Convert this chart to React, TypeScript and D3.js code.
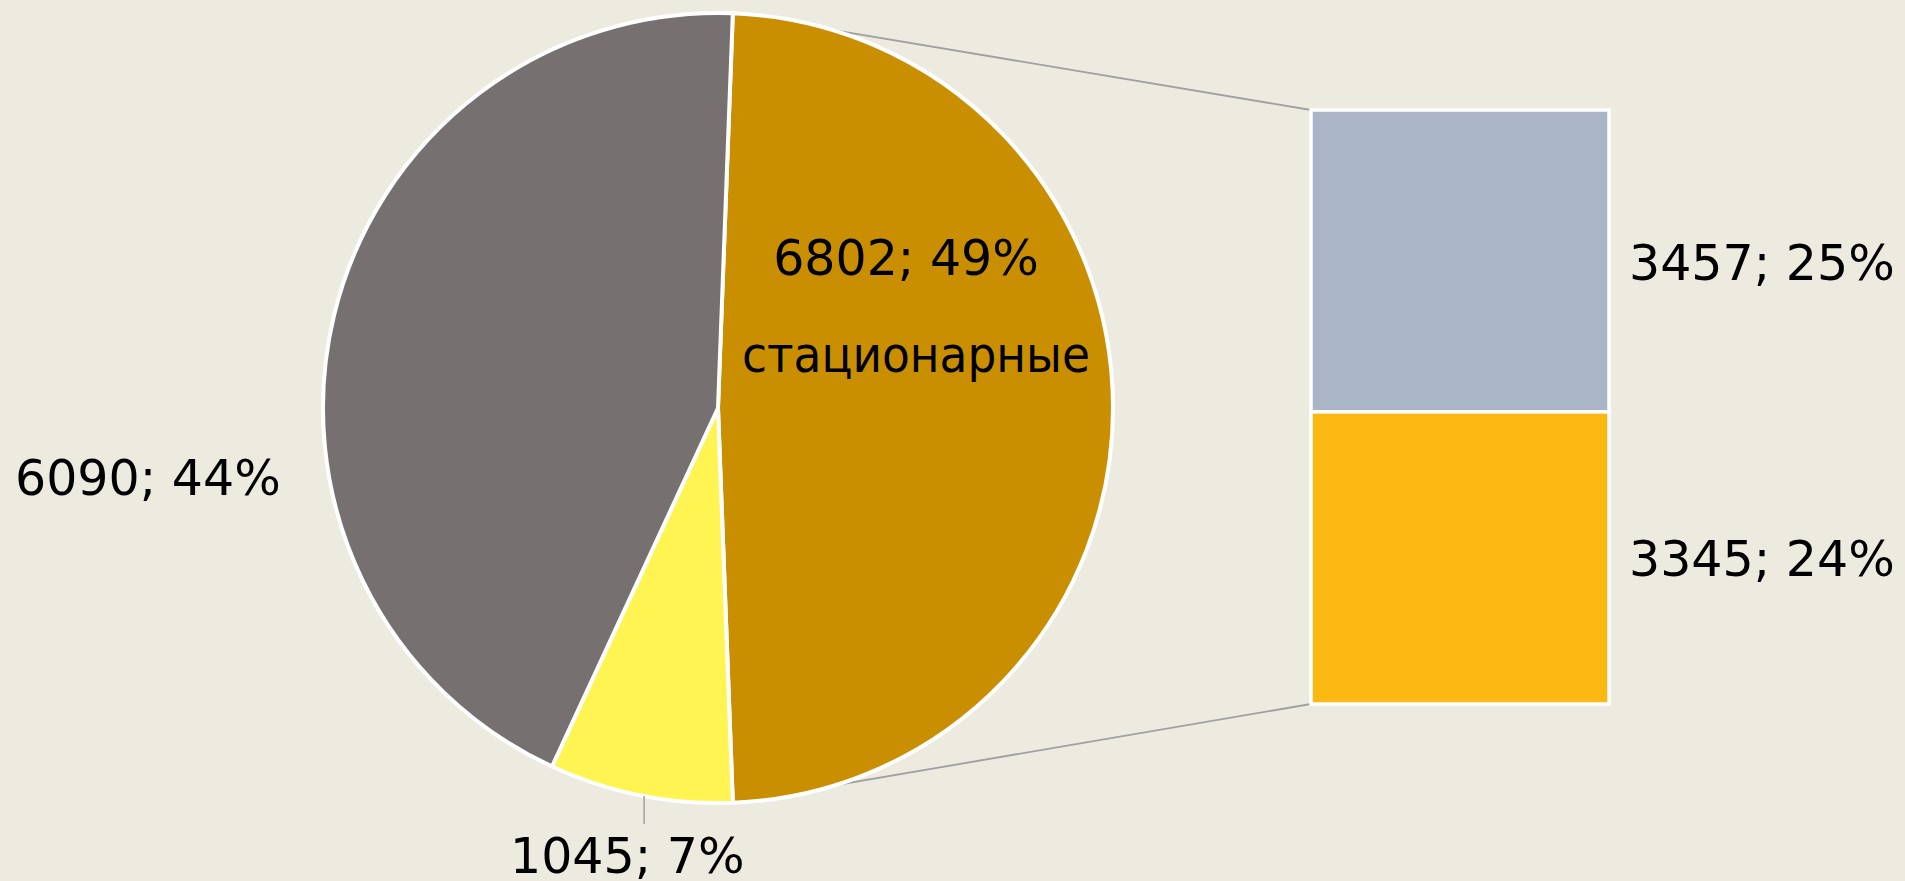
import React, { useEffect } from "react";
import * as d3 from "d3";

// Main pie data
const pieLabels = ["стационарные", "", ""];
const pieValues = [6802, 1045, 6090];
const pieColors = ["#C98F00", "#FFF452", "#767070"];

// Secondary stacked bar (split of the "стационарные" slice)
const barValues = [3457, 3345];
const barColors = ["#AAB6C8", "#FBB813"];

const W = 1905;
const H = 881;
const FONT = "'DejaVu Sans', Verdana, sans-serif";
const FS = 49;

export default function App() {
  useEffect(() => {
    document.body.style.margin = "0";
    document.body.style.background = "#EDEBE0";
  }, []);

  const total = d3.sum(pieValues);
  const cx = 718;
  const cy = 408;
  const r = 395;

  const firstAngle = (pieValues[0] / total) * 2 * Math.PI;
  const start = Math.PI / 2 - firstAngle / 2;

  const pie = d3
    .pie<number>()
    .sort(null)
    .value((d) => d)
    .startAngle(start)
    .endAngle(start + 2 * Math.PI);
  const arcs = pie(pieValues);
  const arc = d3.arc<d3.PieArcDatum<number>>().innerRadius(0).outerRadius(r);

  const pt = (a: number, rr: number) => [cx + rr * Math.sin(a), cy - rr * Math.cos(a)];

  // Bar of pie
  const bx0 = 1311;
  const bx1 = 1609;
  const by0 = 110;
  const by1 = 704;
  const barTotal = d3.sum(barValues);
  const y = d3.scaleLinear().domain([0, barTotal]).range([by0, by1]);
  let acc = 0;
  const segs = barValues.map((v, i) => {
    const s = { y0: y(acc), y1: y(acc + v), v, color: barColors[i] };
    acc += v;
    return s;
  });

  const pct = (v: number) => Math.round((v / total) * 100);
  const lbl = (v: number) => `${v}; ${pct(v)}%`;

  const gA = arcs[0];
  const topPt = pt(gA.startAngle, r);
  const botPt = pt(gA.endAngle, r);

  const yA = arcs[1];
  const yMid = (yA.startAngle + yA.endAngle) / 2;
  const yEdge = pt(yMid, r + 6);

  return (
    <svg width={W} height={H} style={{ display: "block", background: "#EDEBE0" }} fontFamily={FONT}>
      <rect x={0} y={0} width={W} height={H} fill="#EDEBE0" />
      {/* connector lines */}
      <line x1={bx0} y1={by0} x2={topPt[0]} y2={topPt[1]} stroke="#A0A0A0" strokeWidth={1.8} />
      <line x1={bx0} y1={by1} x2={botPt[0]} y2={botPt[1]} stroke="#A0A0A0" strokeWidth={1.8} />
      <g transform={`translate(${cx},${cy})`}>
        {arcs.map((a, i) => (
          <path key={i} d={arc(a) || ""} fill={pieColors[i]} stroke="#FFFFFF" strokeWidth={4} strokeLinejoin="round" />
        ))}
      </g>
      {segs.map((s, i) => (
        <rect key={i} x={bx0} y={s.y0} width={bx1 - bx0} height={s.y1 - s.y0} fill={s.color} stroke="#FFFFFF" strokeWidth={3.5} />
      ))}
      {/* leader line for small slice */}
      <line x1={yEdge[0] + 5} y1={796} x2={yEdge[0] + 5} y2={824} stroke="#A0A0A0" strokeWidth={1.5} />
      {/* labels */}
      <text x={cx + 188} y={275} fontSize={FS} textAnchor="middle" fill="#000">{lbl(pieValues[0])}</text>
      <text x={cx + 198} y={372} fontSize={FS} textAnchor="middle" fill="#000" textLength={348} lengthAdjust="spacingAndGlyphs">{pieLabels[0]}</text>
      <text x={15} y={495} fontSize={FS} fill="#000">{lbl(pieValues[2])}</text>
      <text x={510} y={873} fontSize={FS} fill="#000">{lbl(pieValues[1])}</text>
      {segs.map((s, i) => (
        <text key={i} x={1629} y={i === 0 ? 280 : 576} fontSize={FS} fill="#000">{lbl(s.v)}</text>
      ))}
    </svg>
  );
}
